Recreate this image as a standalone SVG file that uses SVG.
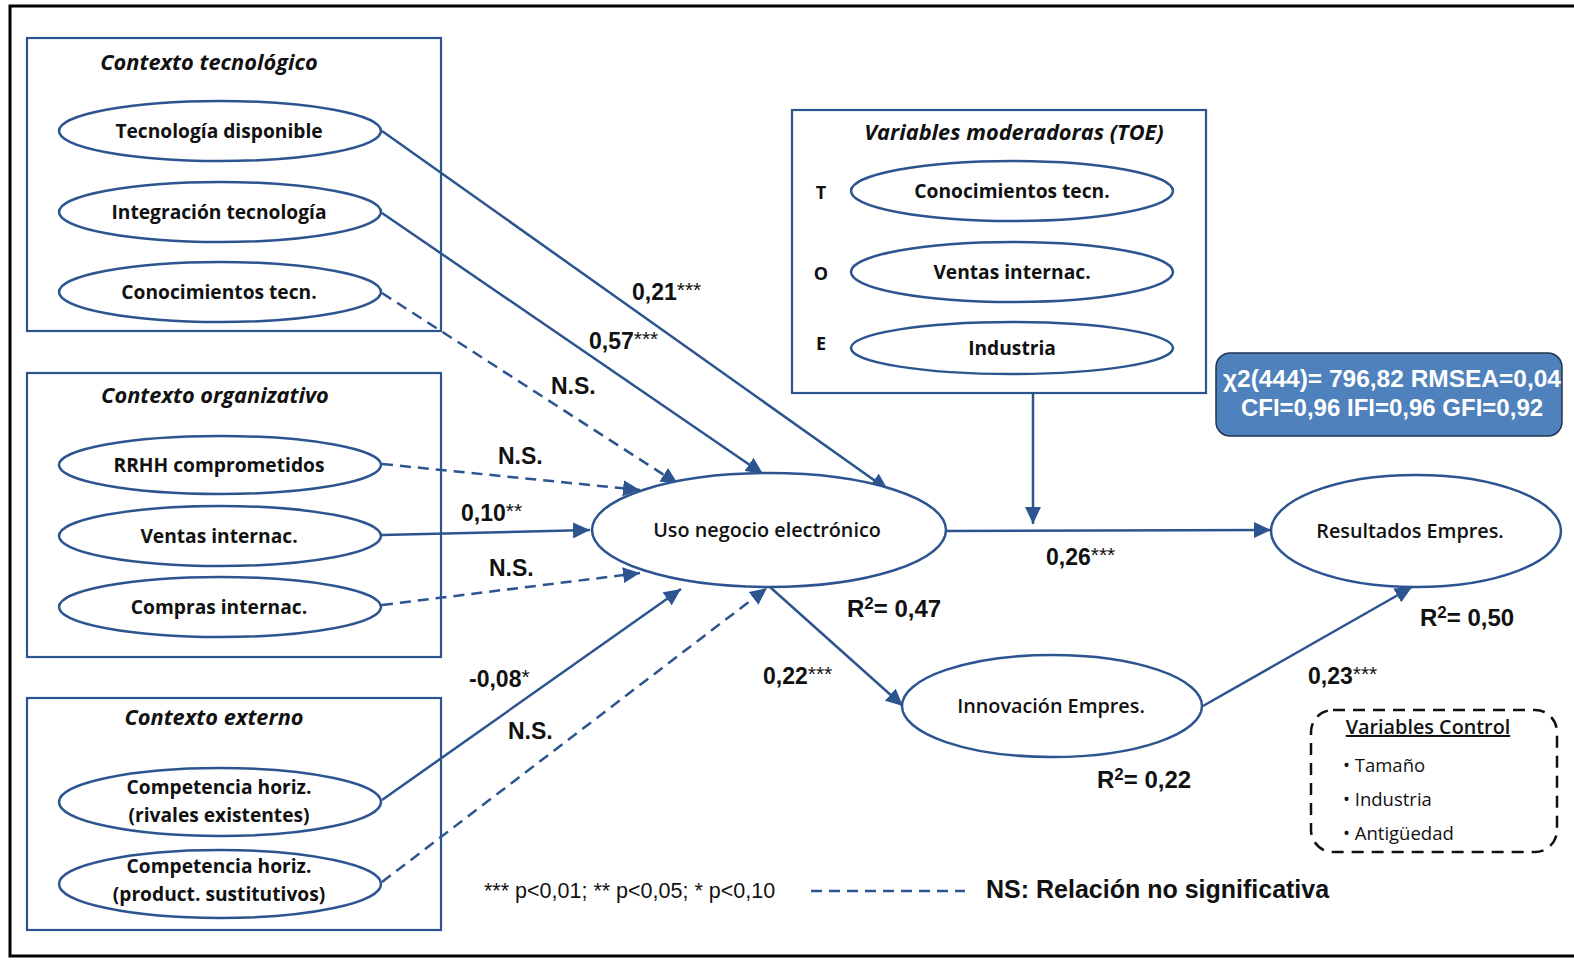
<svg xmlns="http://www.w3.org/2000/svg" width="1574" height="961" viewBox="0 0 1574 961">
  <defs>
    <marker id="arr" markerUnits="userSpaceOnUse" markerWidth="18" markerHeight="16" refX="17" refY="8" orient="auto">
      <path d="M0,0 L17,8 L0,16 z" fill="#2C5590"/>
    </marker>
    <style>
      .box { fill: none; stroke: #2C5590; stroke-width: 2.2; }
      .node { fill: #ffffff; stroke: #2C5590; stroke-width: 2.5; }
      .lbl { font-family: "Open Sans", "Noto Sans", sans-serif; font-weight: bold; font-size: 19.2px; fill: #111; text-anchor: middle; }
      .lbl-c { font-family: "Open Sans", "Noto Sans", sans-serif; font-weight: 600; font-size: 19.8px; fill: #111; text-anchor: middle; }
      .title { font-family: "Open Sans", "Noto Sans", sans-serif; font-weight: bold; font-style: italic; font-size: 21.8px; fill: #111; text-anchor: middle; }
      .toe { font-family: "Open Sans", "Noto Sans", sans-serif; font-weight: bold; font-size: 18px; fill: #111; text-anchor: middle; }
      .edge { fill: none; stroke: #2C5590; stroke-width: 2.5; marker-end: url(#arr); }
      .dash { stroke-dasharray: 11 7; }
      .coef { font-family: "Liberation Sans", Arial, sans-serif; font-weight: bold; font-size: 23px; fill: #111; }
      .r2 { font-size: 24px; }
      .ns-key { font-size: 25px; }
      .sup { font-size: 21px; font-weight: normal; }
      .sq { font-size: 17px; }
      .fit { font-family: "Liberation Sans", Arial, sans-serif; font-weight: bold; font-size: 24px; fill: #ffffff; text-anchor: middle; }
      .ctl { font-family: "Open Sans", "Noto Sans", sans-serif; font-size: 18.5px; fill: #111; }
      .ctl-head { font-weight: 600; font-size: 19.8px; text-anchor: middle; text-decoration: underline; }
      .note { font-family: "Liberation Sans", Arial, sans-serif; font-size: 21.5px; fill: #111; }
    </style>
  </defs>

  <rect x="0" y="0" width="1574" height="961" fill="#ffffff"/>
  <!-- outer frame -->
  <path d="M1574,6 L10,6 L10,956 L1574,956" fill="none" stroke="#000" stroke-width="3"/>

  <!-- connectors -->
  <g id="connectors">
    <line class="edge" x1="382" y1="131" x2="888" y2="490"/>
    <line class="edge" x1="382" y1="213" x2="763" y2="474"/>
    <line class="edge dash" x1="382" y1="293" x2="678" y2="484"/>
    <line class="edge dash" x1="382" y1="464" x2="640" y2="490"/>
    <line class="edge" x1="382" y1="535" x2="590" y2="530"/>
    <line class="edge dash" x1="382" y1="605" x2="640" y2="573"/>
    <line class="edge" x1="382" y1="800" x2="681" y2="589"/>
    <line class="edge dash" x1="382" y1="882" x2="767" y2="588"/>
    <line class="edge" x1="770" y1="587" x2="903" y2="706"/>
    <line class="edge" x1="946" y1="531" x2="1271" y2="530"/>
    <line class="edge" x1="1203" y1="706" x2="1412" y2="587"/>
    <line class="edge" x1="1033" y1="393" x2="1033" y2="524"/>
  </g>

  <!-- technological context -->
  <g id="ctx-tecnologico">
    <rect class="box" x="27" y="38" width="414" height="293"/>
    <text class="title" x="209" y="70">Contexto tecnológico</text>
  </g>
  <g id="tecnologia-disponible">
    <ellipse class="node" cx="220" cy="131" rx="161" ry="30"/>
    <text class="lbl" x="219" y="138">Tecnología disponible</text>
  </g>
  <g id="integracion-tecnologia">
    <ellipse class="node" cx="220" cy="212" rx="161" ry="30"/>
    <text class="lbl" x="219" y="219">Integración tecnología</text>
  </g>
  <g id="conocimientos-tecn">
    <ellipse class="node" cx="220" cy="292" rx="161" ry="30"/>
    <text class="lbl" x="219" y="299">Conocimientos tecn.</text>
  </g>

  <!-- organisational context -->
  <g id="ctx-organizativo">
    <rect class="box" x="27" y="373" width="414" height="284"/>
    <text class="title" x="215" y="403">Contexto organizativo</text>
  </g>
  <g id="rrhh">
    <ellipse class="node" cx="220" cy="465" rx="161" ry="29"/>
    <text class="lbl" x="219" y="472">RRHH comprometidos</text>
  </g>
  <g id="ventas-internac">
    <ellipse class="node" cx="220" cy="536" rx="161" ry="30"/>
    <text class="lbl" x="219" y="543">Ventas internac.</text>
  </g>
  <g id="compras-internac">
    <ellipse class="node" cx="220" cy="607" rx="161" ry="30"/>
    <text class="lbl" x="219" y="614">Compras internac.</text>
  </g>

  <!-- external context -->
  <g id="ctx-externo">
    <rect class="box" x="27" y="698" width="414" height="232"/>
    <text class="title" x="214" y="725">Contexto externo</text>
  </g>
  <g id="competencia-rivales">
    <ellipse class="node" cx="220" cy="802" rx="161" ry="34"/>
    <text class="lbl" x="219" y="794">Competencia horiz.</text>
    <text class="lbl" x="219" y="822">(rivales existentes)</text>
  </g>
  <g id="competencia-sustitutivos">
    <ellipse class="node" cx="220" cy="884" rx="161" ry="34"/>
    <text class="lbl" x="219" y="873">Competencia horiz.</text>
    <text class="lbl" x="219" y="901">(product. sustitutivos)</text>
  </g>

  <!-- moderators -->
  <g id="moderadoras">
    <rect class="box" x="792" y="110" width="414" height="283"/>
    <text class="title" x="1014" y="140">Variables moderadoras  (TOE)</text>
    <text class="toe" x="821" y="199">T</text>
    <text class="toe" x="821" y="280">O</text>
    <text class="toe" x="821" y="350">E</text>
  </g>
  <g id="mod-conocimientos">
    <ellipse class="node" cx="1012" cy="191" rx="161" ry="30"/>
    <text class="lbl" x="1012" y="198">Conocimientos tecn.</text>
  </g>
  <g id="mod-ventas">
    <ellipse class="node" cx="1012" cy="272" rx="161" ry="30"/>
    <text class="lbl" x="1012" y="279">Ventas internac.</text>
  </g>
  <g id="mod-industria">
    <ellipse class="node" cx="1012" cy="348" rx="161" ry="26"/>
    <text class="lbl" x="1012" y="355">Industria</text>
  </g>

  <!-- central constructs -->
  <g id="uso-negocio">
    <ellipse class="node" cx="769" cy="530" rx="177" ry="57"/>
    <text class="lbl-c" x="767" y="537">Uso negocio electrónico</text>
  </g>
  <g id="resultados">
    <ellipse class="node" cx="1416" cy="531" rx="145" ry="56"/>
    <text class="lbl-c" x="1410" y="538">Resultados Empres.</text>
  </g>
  <g id="innovacion">
    <ellipse class="node" cx="1052" cy="706" rx="150" ry="51"/>
    <text class="lbl-c" x="1051" y="713">Innovación Empres.</text>
  </g>

  <!-- fit indices -->
  <g id="ajuste">
    <rect x="1216" y="353" width="346" height="83" rx="14" fill="#4F81BD" stroke="#1F3550" stroke-width="1.5"/>
    <text class="fit" x="1392" y="387" textLength="338" lengthAdjust="spacingAndGlyphs">χ2(444)= 796,82 RMSEA=0,04</text>
    <text class="fit" x="1392" y="416">CFI=0,96 IFI=0,96  GFI=0,92</text>
  </g>

  <!-- control variables -->
  <g id="control">
    <rect x="1311" y="710" width="246" height="142" rx="22" fill="none" stroke="#111" stroke-width="2.5" stroke-dasharray="12 8"/>
    <text class="ctl ctl-head" x="1428" y="734">Variables Control</text>
    <text class="ctl" x="1343" y="772">• Tamaño</text>
    <text class="ctl" x="1343" y="806">• Industria</text>
    <text class="ctl" x="1343" y="840">• Antigüedad</text>
  </g>

  <!-- path coefficients -->
  <g id="coeficientes">
    <text class="coef" x="632" y="300">0,21<tspan class="sup" dy="-3">***</tspan></text>
    <text class="coef" x="589" y="349">0,57<tspan class="sup" dy="-3">***</tspan></text>
    <text class="coef" x="551" y="394">N.S.</text>
    <text class="coef" x="498" y="464">N.S.</text>
    <text class="coef" x="461" y="521">0,10<tspan class="sup" dy="-3">**</tspan></text>
    <text class="coef" x="489" y="576">N.S.</text>
    <text class="coef" x="469" y="687">-0,08<tspan class="sup" dy="-3">*</tspan></text>
    <text class="coef" x="508" y="739">N.S.</text>
    <text class="coef" x="763" y="684">0,22<tspan class="sup" dy="-3">***</tspan></text>
    <text class="coef" x="1046" y="565">0,26<tspan class="sup" dy="-3">***</tspan></text>
    <text class="coef" x="1308" y="684">0,23<tspan class="sup" dy="-3">***</tspan></text>
    <text class="coef r2" x="847" y="617">R<tspan class="sq" dy="-8">2</tspan><tspan dy="8">= 0,47</tspan></text>
    <text class="coef r2" x="1420" y="626">R<tspan class="sq" dy="-8">2</tspan><tspan dy="8">= 0,50</tspan></text>
    <text class="coef r2" x="1097" y="788">R<tspan class="sq" dy="-8">2</tspan><tspan dy="8">= 0,22</tspan></text>
  </g>

  <!-- legend -->
  <g id="leyenda">
    <text class="note" x="484" y="898">*** p&lt;0,01; ** p&lt;0,05; * p&lt;0,10</text>
    <line x1="811" y1="891" x2="965" y2="891" stroke="#2C5590" stroke-width="2.5" stroke-dasharray="11 7"/>
    <text class="coef ns-key" x="986" y="898">NS: Relación no significativa</text>
  </g>
</svg>
